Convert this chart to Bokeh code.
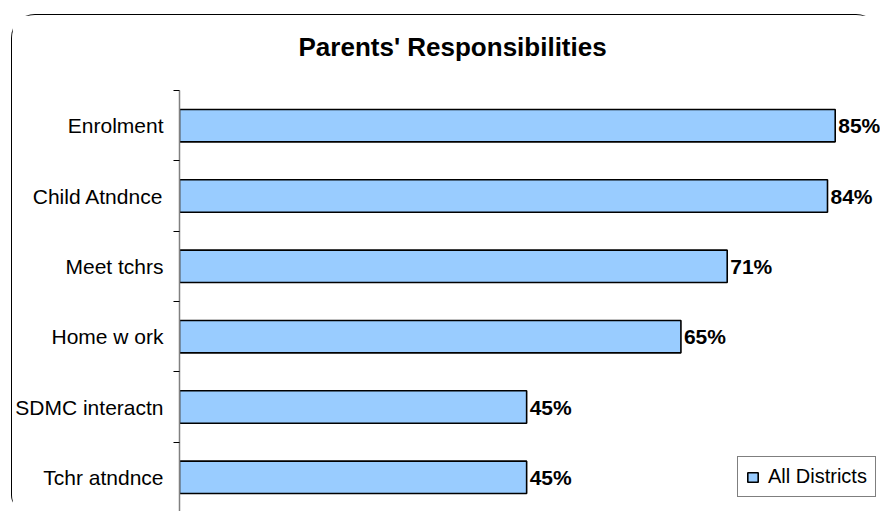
from bokeh.plotting import figure
from bokeh.models import ColumnDataSource, FixedTicker, Legend, LegendItem, Title
from bokeh.core.properties import value
from bokeh.embed import file_html
from bokeh.resources import INLINE

# ---- data ----
categories = ["Enrolment", "Child Atndnce", "Meet tchrs", "Home w ork", "SDMC interactn", "Tchr atndnce"]
values = [85, 84, 71, 65, 45, 45]
series_name = "All Districts"
title_text = "Parents' Responsibilities"

n = len(categories)
ypos = [n - 1 - i + 0.5 for i in range(n)]
labels = [f"{v}%" for v in values]

src = ColumnDataSource(dict(y=ypos, v=values, lab=labels, cat=categories))

FONT = "Liberation Sans"

p = figure(
    width=869, height=497,
    x_range=(0, 91), y_range=(0, n),
    output_backend="svg", toolbar_location=None,
    min_border_left=167, min_border_right=0, min_border_bottom=0, min_border_top=75,
    margin=(14, 0, 0, 11),
    styles={"border-top": "1px solid black", "border-left": "1px solid black",
            "border-radius": "24px 24px 0 16px"},
)
p.outline_line_color = None
p.background_fill_color = "white"
p.border_fill_color = "white"
p.xgrid.visible = False
p.ygrid.visible = False
p.xaxis.visible = False

# real title (outer), with a blank spacer title between it and the frame
p.title.text = title_text
p.title.text_font = FONT
p.title.text_font_size = "26px"
p.title.text_font_style = "bold"
p.title.text_color = "black"
p.title.align = "left"
p.title.offset = 119
p.title.standoff = 4
p.add_layout(Title(text=" ", text_font_size="10px", standoff=14), "above")

bars = p.hbar(y="y", right="v", left=0, height=0.46, source=src,
              fill_color="#99CCFF", line_color="black", line_width=1.6)

p.text(x="v", y="y", text="lab", source=src, x_offset=3,
       text_baseline="middle", text_align="left",
       text_font=value(FONT), text_font_size="21px", text_font_style="bold",
       text_color="black")

ax = p.yaxis[0]
ax.ticker = FixedTicker(ticks=ypos, minor_ticks=list(range(0, n + 1)))
ax.major_label_overrides = {y: c for y, c in zip(ypos, categories)}
ax.major_tick_out = 0
ax.major_tick_in = 0
ax.minor_tick_out = 6
ax.minor_tick_in = 0
ax.minor_tick_line_color = "black"
ax.minor_tick_line_width = 1
ax.axis_line_color = "#808080"
ax.axis_line_width = 1.5
ax.major_label_text_font = FONT
ax.major_label_text_font_size = "21px"
ax.major_label_text_color = "black"
ax.major_label_standoff = 10

legend = Legend(items=[LegendItem(label=series_name, renderers=[bars])],
                location=(558, 15))
legend.label_text_font = FONT
legend.label_text_font_size = "20px"
legend.label_text_color = "black"
legend.glyph_width = 13
legend.glyph_height = 12
legend.label_standoff = 9
legend.padding = 8
legend.margin = 0
legend.border_line_color = "black"
legend.border_line_width = 1
legend.background_fill_color = "white"
legend.background_fill_alpha = 1
legend.label_height = 20
p.add_layout(legend)

open("out.html", "w").write(file_html(p, INLINE))
